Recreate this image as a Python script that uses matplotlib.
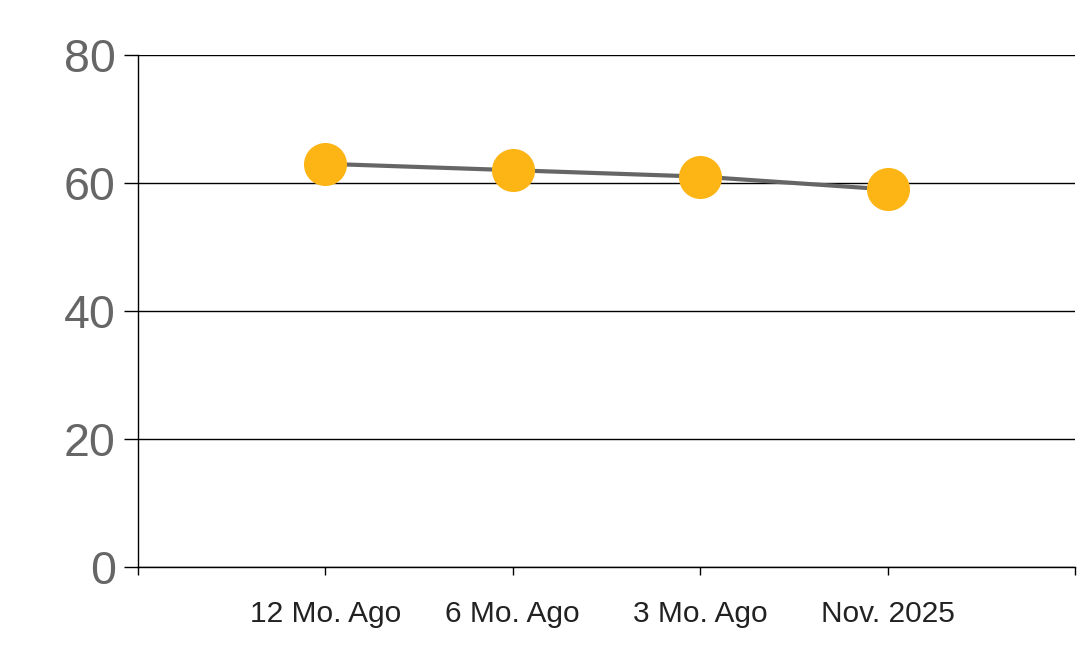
import matplotlib
matplotlib.use("Agg")
import matplotlib.pyplot as plt

categories = ["12 Mo. Ago", "6 Mo. Ago", "3 Mo. Ago", "Nov. 2025"]
values = [63, 62, 61, 59]
y_ticks = [0, 20, 40, 60, 80]


def main():
    plt.rcParams['font.family'] = ['Liberation Sans', 'DejaVu Sans']
    fig = plt.figure(figsize=(10.78, 6.63), dpi=100)
    ax = fig.add_axes([138 / 1078, 1 - 567 / 663, (1075 - 138) / 1078, (567 - 55) / 663])

    xs = list(range(1, len(categories) + 1))
    ax.plot(xs, values, color='#666666', lw=3, zorder=3)
    ax.plot(xs, values, 'o', color='#FDB515', markersize=31, markeredgewidth=0, zorder=4)

    ax.set_ylim(0, 80)
    ax.set_xlim(0, len(categories) + 1)
    ax.set_yticks(y_ticks)
    ax.set_yticklabels([str(t) for t in y_ticks])
    ax.set_xticks(range(0, len(categories) + 2))
    ax.set_xticklabels([''] + categories + [''])

    ax.yaxis.grid(True, color='black', lw=1)
    ax.set_axisbelow(True)
    for s in ['top', 'right']:
        ax.spines[s].set_visible(False)
    for s in ['left', 'bottom']:
        ax.spines[s].set_color('black')
        ax.spines[s].set_linewidth(1)

    ax.tick_params(axis='y', length=10, width=1, colors='black', labelcolor='#666666',
                   labelsize=33.5, pad=6)
    ax.tick_params(axis='x', length=6, width=1, colors='black', labelcolor='#222222',
                   labelsize=21.5, pad=18)

    fig.savefig('out.png', dpi=100)


if __name__ == "__main__":
    main()
